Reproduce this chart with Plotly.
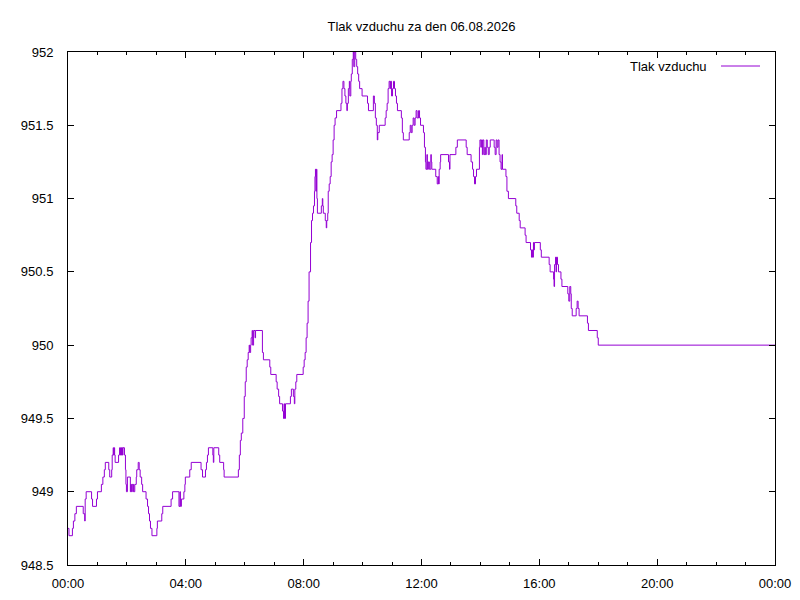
import pandas as pd
import plotly.graph_objects as go

# minutes since midnight and pressure (hPa)
minutes = [
    0, 2, 9, 11, 14, 17, 31, 34, 35, 37, 48, 50, 58, 60, 68, 71, 74, 76, 83, 85,
    89, 90, 92, 93, 94, 95, 96, 103, 105, 107, 108, 109, 110, 111, 112, 115, 117, 118, 119, 121,
    127, 128, 129, 130, 132, 133, 134, 136, 139, 140, 143, 145, 147, 150, 152, 159, 162, 164, 166, 168,
    171, 181, 182, 191, 193, 210, 213, 226, 228, 229, 231, 236, 238, 239, 248, 251, 271, 274, 280, 282,
    284, 286, 295, 296, 297, 307, 309, 317, 318,
    347, 349, 351, 353, 356, 359, 361, 363, 365, 367, 369, 370, 372, 373, 375, 376, 378, 381, 382, 396,
    398, 411, 413, 424, 426, 429, 431, 437, 439, 440, 441, 443, 453, 455, 459, 461, 462, 464, 466, 479,
    481, 483, 485, 487,
    489, 491, 494, 496, 498, 500, 502, 503, 504, 505, 506, 507, 508, 516, 518, 519, 520, 524, 526, 527,
    529, 530, 532, 534, 536, 538, 540, 542, 544, 547, 556, 558, 560, 562, 564, 566, 568, 569, 571, 573,
    574, 576, 577, 579, 581, 582, 584, 586, 588, 590, 592, 594, 599, 610, 612, 622, 624, 626, 628, 630,
    631, 634, 646, 648, 650, 652, 654, 656, 657, 659, 661, 663, 665, 667, 669, 671, 679, 681, 683, 695,
    697, 699, 701, 703, 705, 707, 709, 711, 714, 716, 718,
    724, 726, 728, 729, 731, 732, 734, 736, 739, 740, 741, 749, 752, 754, 755, 756, 758, 759, 775, 777,
    778, 790, 793, 811, 813, 821, 824, 826, 828, 830, 832, 838, 839, 841, 842, 844, 845, 847, 849, 850,
    852, 854, 856, 858, 860, 868, 870, 872, 874, 876, 878, 880, 882, 884, 885, 892, 894, 897,
    912, 914, 919, 921, 931, 933, 942, 944, 945, 946, 948, 949, 950, 962, 964, 980, 982, 989, 990, 991,
    993, 994, 995, 997, 999, 1004, 1006, 1018, 1020, 1022, 1024, 1025, 1027, 1035, 1037, 1039, 1041, 1058, 1060, 1078,
    1080, 1440,
]
pressure = [
    948.75, 948.7, 948.75, 948.8, 948.85, 948.9, 948.85, 948.8, 948.95, 949.0, 948.95, 948.9, 948.95, 949.0, 949.05, 949.1, 949.15, 949.2, 949.15, 949.1,
    949.15, 949.25, 949.3, 949.25, 949.3, 949.25, 949.2, 949.25, 949.3, 949.25, 949.3, 949.25, 949.3, 949.25, 949.3, 949.25, 949.15, 949.05, 949.0, 949.1,
    949.0, 949.05, 949.0, 949.05, 949.0, 949.05, 949.0, 949.05, 949.1, 949.15, 949.2, 949.15, 949.1, 949.05, 949.0, 948.95, 948.9, 948.85, 948.8, 948.75,
    948.7, 948.75, 948.8, 948.85, 948.9, 948.95, 949.0, 948.9, 949.0, 948.9, 948.95, 949.0, 949.05, 949.1, 949.15, 949.2, 949.15, 949.1, 949.15, 949.2,
    949.25, 949.3, 949.25, 949.2, 949.3, 949.25, 949.2, 949.15, 949.1,
    949.15, 949.25, 949.35, 949.4, 949.5, 949.65, 949.75, 949.85, 949.9, 949.95, 950.0, 949.95, 950.0, 950.05, 950.1, 950.0, 950.1, 950.05, 950.1, 949.95,
    949.9, 949.85, 949.8, 949.75, 949.7, 949.65, 949.6, 949.55, 949.5, 949.6, 949.5, 949.6, 949.65, 949.7, 949.65, 949.6, 949.7, 949.75, 949.8, 949.85,
    949.9, 949.95, 950.05, 950.15,
    950.3, 950.5, 950.7, 950.85, 950.9, 950.95, 951.05, 951.15, 951.2, 951.05, 951.2, 951.0, 950.9, 950.95, 951.0, 950.95, 950.9, 950.85, 950.8, 950.85,
    950.9, 951.05, 951.1, 951.15, 951.25, 951.3, 951.4, 951.5, 951.55, 951.6, 951.65, 951.75, 951.8, 951.75, 951.7, 951.65, 951.6, 951.65, 951.75, 951.8,
    951.7, 951.8, 951.85, 951.95, 952.0, 951.9, 952.0, 951.95, 951.9, 951.85, 951.8, 951.75, 951.7, 951.65, 951.6, 951.7, 951.65, 951.55, 951.5, 951.4,
    951.45, 951.5, 951.55, 951.6, 951.65, 951.75, 951.8, 951.75, 951.8, 951.7, 951.75, 951.8, 951.75, 951.7, 951.65, 951.6, 951.55, 951.45, 951.4, 951.45,
    951.5, 951.45, 951.5, 951.55, 951.5, 951.55, 951.6, 951.55, 951.6, 951.55, 951.5,
    951.45, 951.35, 951.25, 951.2, 951.3, 951.2, 951.25, 951.2, 951.3, 951.25, 951.2, 951.15, 951.1, 951.15, 951.1, 951.2, 951.25, 951.3, 951.25, 951.2,
    951.3, 951.35, 951.4, 951.35, 951.3, 951.25, 951.2, 951.15, 951.1, 951.15, 951.2, 951.35, 951.4, 951.35, 951.4, 951.3, 951.4, 951.3, 951.35, 951.3,
    951.4, 951.35, 951.3, 951.35, 951.4, 951.35, 951.3, 951.4, 951.35, 951.4, 951.3, 951.25, 951.2, 951.3, 951.2, 951.15, 951.05, 951.0,
    950.95, 950.9, 950.85, 950.8, 950.75, 950.7, 950.65, 950.6, 950.65, 950.6, 950.7, 950.65, 950.7, 950.65, 950.6, 950.55, 950.5, 950.45, 950.4, 950.55,
    950.6, 950.5, 950.6, 950.55, 950.5, 950.45, 950.4, 950.35, 950.3, 950.4, 950.35, 950.25, 950.2, 950.25, 950.3, 950.25, 950.2, 950.15, 950.1, 950.05,
    950.0, 950.0,
]

day = "2026-08-06"
title_text = "Tlak vzduchu za den 06.08.2026"
series_name = "Tlak vzduchu"
y_ticks = [948.5, 949, 949.5, 950, 950.5, 951, 951.5, 952]
y_labels = ["948.5", "949", "949.5", "950", "950.5", "951", "951.5", "952"]

base = pd.Timestamp(day)
times = [base + pd.Timedelta(minutes=m) for m in minutes]

color = "#9400D3"
font = dict(family="Liberation Sans, Arial, sans-serif", size=13, color="black")

# page body has an 8px margin on every side: a 784x584 figure fills the 800x600 page exactly
OFF = 8
W, H = 800 - 2 * OFF, 600 - 2 * OFF
plot_l, plot_r, plot_t, plot_b = 68, 775, 52, 565   # target page coordinates of the plot box

fig = go.Figure()
fig.add_trace(go.Scatter(
    x=times, y=pressure, mode="lines", name=series_name,
    line=dict(color=color, width=1, shape="hv"), showlegend=False,
))

axis_common = dict(
    showline=True, linecolor="black", linewidth=1, mirror="allticks",
    ticks="inside", ticklen=6, tickcolor="black", tickwidth=1,
    showgrid=False, zeroline=False, tickfont=font, automargin=False,
)

fig.update_layout(
    width=W, height=H,
    margin=dict(l=plot_l - OFF, r=OFF + W - plot_r, t=plot_t - OFF, b=OFF + H - plot_b, pad=0, autoexpand=False),
    paper_bgcolor="white", plot_bgcolor="white",
    font=font,
    title=dict(text=title_text, x=0.5, xref="paper", xanchor="center",
               y=1 - (26 - OFF) / H, yref="container", yanchor="middle",
               font=font),
    xaxis=dict(
        type="date",
        range=[base, base + pd.Timedelta(days=1)],
        dtick=4 * 3600 * 1000, tick0=base, tickformat="%H:%M",
        minor=dict(dtick=3600 * 1000, ticks="inside", ticklen=3, tickcolor="black", showgrid=False),
        ticklabelstandoff=6,
        **axis_common,
    ),
    yaxis=dict(
        range=[948.5, 952], tickvals=y_ticks, ticktext=y_labels,
        ticklabelstandoff=11,
        **axis_common,
    ),
)

pw = plot_r - plot_l
ph = plot_b - plot_t
key_y = (plot_b - 66) / ph
# gnuplot-style key: text then line sample
fig.add_annotation(text=series_name, xref="paper", yref="paper",
                   x=(709 - plot_l) / pw, y=key_y, xanchor="right", yanchor="middle",
                   showarrow=False, font=font)
fig.add_shape(type="line", xref="paper", yref="paper",
              x0=(721 - plot_l) / pw, x1=(760 - plot_l) / pw,
              y0=key_y, y1=key_y,
              line=dict(color=color, width=1))

fig.write_html("out.html")
